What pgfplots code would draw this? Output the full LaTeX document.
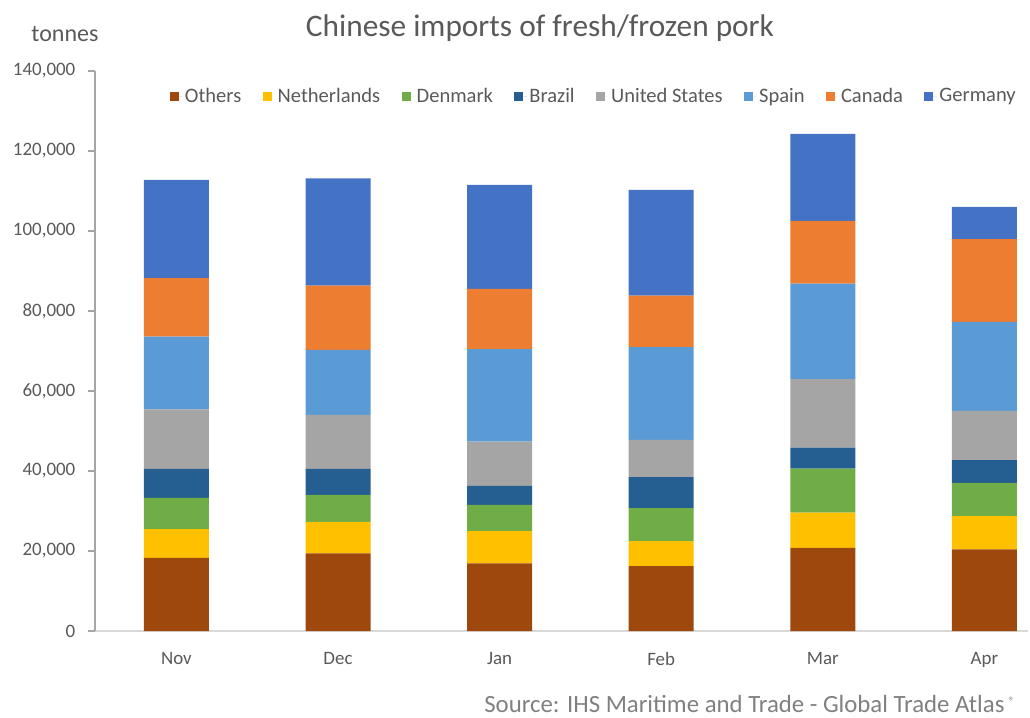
\documentclass[border=0pt]{standalone}
\usepackage{pgfplots}
\usepackage{pgfplotstable}
\pgfplotsset{compat=1.18}
\usepackage{fontspec}
\setmainfont{Carlito}
\definecolor{cOthers}{HTML}{9E480E}
\definecolor{cNeth}{HTML}{FFC000}
\definecolor{cDen}{HTML}{70AD47}
\definecolor{cBra}{HTML}{255E91}
\definecolor{cUS}{HTML}{A5A5A5}
\definecolor{cSpa}{HTML}{5B9BD5}
\definecolor{cCan}{HTML}{ED7D31}
\definecolor{cGer}{HTML}{4472C4}
\definecolor{txt}{HTML}{595959}
\pgfplotstableread{
m Others Neth Den Bra US Spa Can Ger
0 18300 7200 7800 7200 14900 18200 14600 24600
1 19400 7900 6700 6500 13500 16250 16100 26800
2 16900 8100 6500 4750 11100 23100 15100 26000
3 16250 6250 8200 7750 9300 23200 12900 26400
4 20800 8800 11000 5250 17100 23900 15700 21700
5 20400 8300 8300 5700 12300 22250 20700 8100
}\data
\begin{document}
\begin{tikzpicture}
\begin{axis}[name=ax, at={(0,0)}, anchor=south west,
  scale only axis, width=699.75pt, height=420pt,
  ybar stacked, bar width=48.75pt,
  xmin=-0.504, xmax=5.27, ymin=0, ymax=140000,
  xtick={0,1,2,3,4,5}, xticklabels={Nov,Dec,Jan,Feb,Mar,Apr},
  ytick={0,20000,40000,60000,80000,100000,120000,140000},
  scaled y ticks=false,
  yticklabel style={/pgf/number format/fixed, /pgf/number format/1000 sep={,}, xshift=-6pt},
  /pgf/number format/assume math mode=true,
  ticklabel style={font=\fontsize{14.2}{16}\selectfont, text=txt},
  xticklabel style={yshift=-7.5pt},
  axis x line*=bottom, axis y line*=left,
  x axis line style={draw=black!15, line width=1pt},
  y axis line style={draw=black!35, line width=1pt},
  xtick style={draw=none},
  ytick style={draw=black!35, line width=1pt},
  tick align=outside, major tick length=5.25pt,
  legend style={at={(0.535,0.955)}, anchor=center, draw=none, fill=none,
    font=\fontsize{15.4}{17}\selectfont, text=txt,
    /tikz/every even column/.append style={column sep=14pt}},
  legend columns=-1,
  legend image code/.code={\fill[#1] (0pt,-3.4pt) rectangle (6.8pt,3.4pt); \path (0pt,0pt) -- (9.3pt,0pt);},
]
\addplot[fill=cOthers, draw=none] table[x=m, y=Others] {\data};
\addplot[fill=cNeth, draw=none] table[x=m, y=Neth] {\data};
\addplot[fill=cDen, draw=none] table[x=m, y=Den] {\data};
\addplot[fill=cBra, draw=none] table[x=m, y=Bra] {\data};
\addplot[fill=cUS, draw=none] table[x=m, y=US] {\data};
\addplot[fill=cSpa, draw=none] table[x=m, y=Spa] {\data};
\addplot[fill=cCan, draw=none] table[x=m, y=Can] {\data};
\addplot[fill=cGer, draw=none] table[x=m, y=Ger] {\data};
\legend{Others,Netherlands,Denmark,Brazil,United States,Spain,Canada,Germany}
\end{axis}
\node[font=\fontsize{23.5}{26}\selectfont, text=txt] at ([shift={(333.75pt,452.5pt)}]ax.south west) {Chinese imports of fresh/frozen pork};
\node[font=\fontsize{18}{20}\selectfont, text=txt] at ([shift={(-22.5pt,448pt)}]ax.south west) {tonnes};
\node[font=\fontsize{18.6}{20}\selectfont, text=black!50, anchor=east, inner sep=0pt] at ([shift={(690pt,-54.5pt)}]ax.south west) {Source: IHS Maritime and Trade - Global Trade Atlas\,\raisebox{0.55ex}{\fontsize{9}{10}\selectfont ®}};
\pgfresetboundingbox
\path[use as bounding box] ([shift={(-71.25pt,-64.5pt)}]ax.south west) rectangle ([shift={(701.25pt,473.25pt)}]ax.south west);
\end{tikzpicture}
\end{document}
